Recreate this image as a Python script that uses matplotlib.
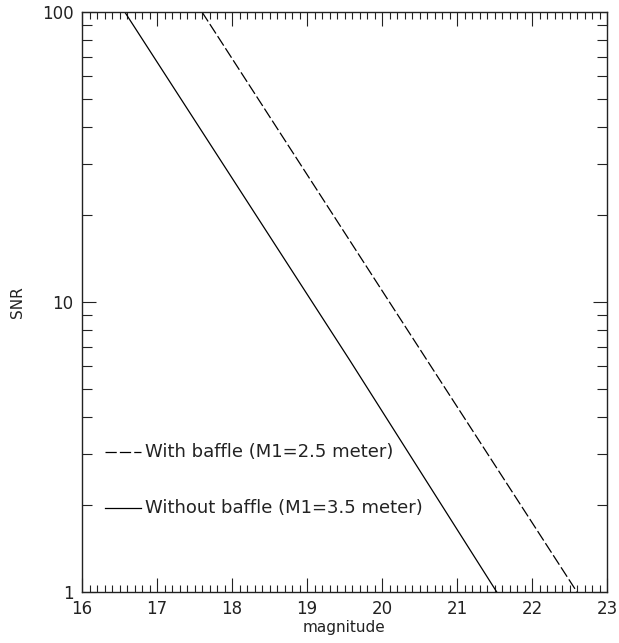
import matplotlib
matplotlib.use("Agg")
import matplotlib.pyplot as plt
from matplotlib.ticker import MultipleLocator, FixedLocator, NullFormatter

# curves (SNR vs magnitude)
mag_baffle = [17.6, 19.1, 20.6, 22.6]
snr_baffle = [100, 25.1, 6.3, 1]
mag_nobaffle = [16.57, 18.07, 19.57, 21.53]
snr_nobaffle = [100, 25.1, 6.3, 1]

label_baffle = "With baffle (M1=2.5 meter)"
label_nobaffle = "Without baffle (M1=3.5 meter)"

plt.rcParams['font.family'] = ['DejaVu Sans']

fig = plt.figure(figsize=(6.19, 6.43), dpi=100)
ax = fig.add_axes([82 / 619, 51 / 643, 525 / 619, 580 / 643])

ax.plot(mag_baffle, snr_baffle, color='black', lw=0.9, dashes=(9, 2.5))
ax.plot(mag_nobaffle, snr_nobaffle, color='black', lw=0.9)

ax.set_yscale('log')
ax.set_xlim(16, 23)
ax.set_ylim(1, 100)

ax.xaxis.set_major_locator(MultipleLocator(1))
ax.xaxis.set_minor_locator(MultipleLocator(0.1))
ax.yaxis.set_major_locator(FixedLocator([1, 10, 100]))
ax.yaxis.set_minor_locator(FixedLocator([2, 3, 4, 5, 6, 7, 8, 9, 20, 30, 40, 50, 60, 70, 80, 90]))
ax.yaxis.set_minor_formatter(NullFormatter())
ax.set_yticklabels(['1', '10', '100'])

ax.tick_params(which='both', direction='in', top=True, right=True, width=0.8,
               labelsize=12, pad=6, colors='#222222')
ax.tick_params(which='major', length=10)
ax.tick_params(which='minor', length=5)
ax.tick_params(axis='y', which='minor', length=7)
for s in ax.spines.values():
    s.set_linewidth(1.0)
    s.set_color('#222222')

ax.set_xlabel('magnitude', fontsize=11, labelpad=1, color='#222222')
ax.set_ylabel('SNR', fontsize=11, labelpad=12, color='#222222')

# legend drawn by hand, like the original
ax.plot([16.31, 16.78], [3.05, 3.05], color='black', lw=0.9, dashes=(9, 2.5))
ax.text(16.84, 3.05, label_baffle, fontsize=13, va='center', color='#222222')
ax.plot([16.31, 16.78], [1.95, 1.95], color='black', lw=0.9)
ax.text(16.84, 1.95, label_nobaffle, fontsize=13, va='center', color='#222222')

fig.savefig('out.png', dpi=100)
